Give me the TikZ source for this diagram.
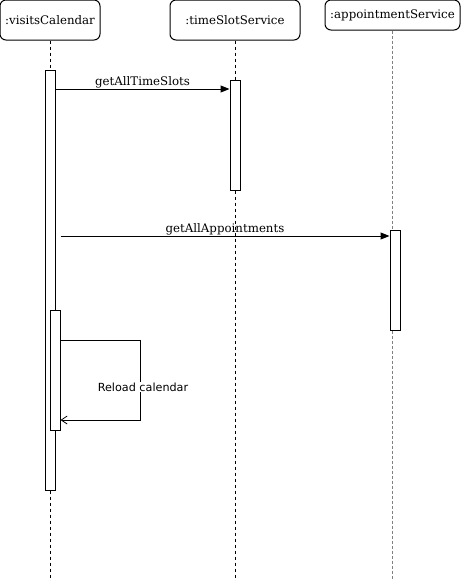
\documentclass[tikz,border=0pt]{standalone}
\usepackage{fontspec}
\setmainfont{DejaVu Serif}
\newfontfamily\msgsans{DejaVu Sans}
\usetikzlibrary{arrows.meta}

\begin{document}
\begin{tikzpicture}[x=1pt,y=-1pt,line width=1pt,font=\fontsize{11.8}{14}\selectfont]

\tikzset{head/.style={draw,rounded corners=6pt,minimum height=40pt,inner sep=0pt},
         life/.style={dash pattern=on 3pt off 3pt},
         act/.style={draw,fill=white,minimum width=10pt,inner sep=0pt},
         call/.style={-{Triangle[length=9pt,width=7pt]}},
         back/.style={-{Straight Barb[length=6pt,width=8pt,line width=0.8pt]}},
         msglabel/.style={above,inner sep=0.5pt}}

\useasboundingbox (0,0) rectangle (461,581);

% participants
\node[head,minimum width=100pt] (cal) at (50,20) {:visitsCalendar};
\node[head,minimum width=130pt] (slot) at (235,20) {:timeSlotService};
\node[head,minimum width=135pt,minimum height=30pt] (appt) at (392.5,15) {:appointmentService};

% lifelines
\draw[life] (cal.south) -- (50,581);
\draw[life] (slot.south) -- (235,581);
\draw[life,gray,dash pattern=on 3pt off 2pt,line width=1.3pt] (appt.south) -- (392.5,581);

% activations
\node[act,minimum height=420pt] (cal1) at (50,280) {};
\node[act,minimum height=120pt] (cal2) at (55,370) {};
\node[act,minimum height=110pt] (slot1) at (235,135) {};
\node[act,minimum height=100pt] (appt1) at (395,280) {};

% messages
\draw[call] (cal1.east |- 0,89) -- node[msglabel] {getAllTimeSlots} (slot1.west |- 0,89);
\draw[call] (cal2.east |- 0,236) -- node[msglabel,pos=0.5] {getAllAppointments} (appt1.west |- 0,236);
\draw[back] (cal2.east |- 0,340) -- (140,340) -- (140,420) -- (cal2.east |- 0,420);
\node[fill=white,inner sep=1pt,font=\msgsans\fontsize{11.2}{13}\selectfont] (reload) at (143,387) {Reload calendar};

\end{tikzpicture}
\end{document}
